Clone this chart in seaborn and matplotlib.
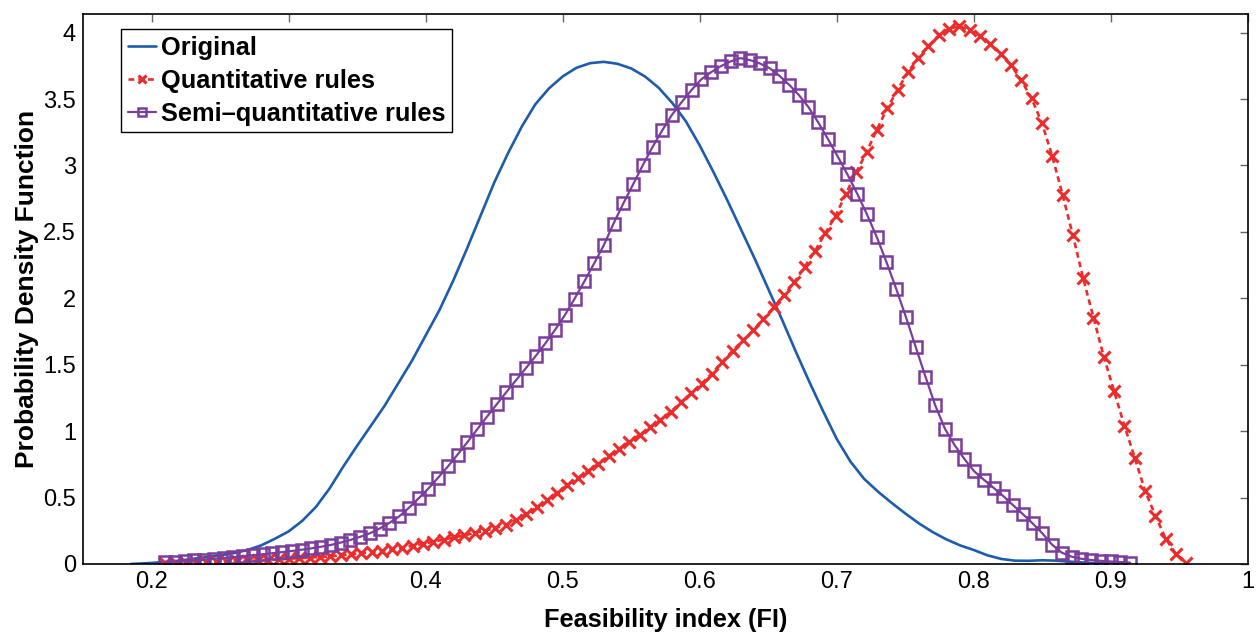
import matplotlib
matplotlib.use("Agg")
import matplotlib.pyplot as plt
import numpy as np
import pandas as pd
import seaborn as sns

# values
orig_x = [0.185, 0.20, 0.21, 0.22, 0.235, 0.25,
          0.26, 0.27, 0.28, 0.29, 0.30, 0.31, 0.32, 0.33, 0.34, 0.35,
          0.36, 0.37, 0.38, 0.39, 0.40, 0.41, 0.42, 0.43, 0.44, 0.45,
          0.46, 0.47, 0.48, 0.49, 0.50, 0.51, 0.52, 0.53, 0.54, 0.55,
          0.56, 0.57, 0.58, 0.59, 0.60, 0.61, 0.62, 0.63, 0.64, 0.65,
          0.66, 0.67, 0.68, 0.69, 0.70, 0.71, 0.72, 0.73, 0.74, 0.75,
          0.76, 0.77, 0.78, 0.79, 0.80, 0.81, 0.82, 0.83, 0.84, 0.85,
          0.86, 0.87, 0.88, 0.89, 0.90, 0.91]
orig_pdf = [0.0, 0.008, 0.015, 0.025, 0.045, 0.065,
            0.082, 0.105, 0.14, 0.19, 0.245, 0.325, 0.43, 0.57, 0.735, 0.89,
            1.04, 1.19, 1.36, 1.53, 1.72, 1.91, 2.13, 2.37, 2.62, 2.87,
            3.09, 3.29, 3.46, 3.58, 3.67, 3.735, 3.77, 3.78, 3.765, 3.73,
            3.67, 3.585, 3.47, 3.33, 3.15, 2.95, 2.74, 2.52, 2.30, 2.07,
            1.84, 1.60, 1.37, 1.15, 0.94, 0.77, 0.64, 0.545, 0.46, 0.38,
            0.305, 0.24, 0.185, 0.14, 0.105, 0.065, 0.038, 0.025, 0.024, 0.028,
            0.025, 0.018, 0.011, 0.006, 0.003, 0.0]

# the two rule-based curves are sampled on an even grid (100 points)
quant_start, quant_end = 0.21, 0.955
quant_pdf = [0.004, 0.0055, 0.0075, 0.0098, 0.012, 0.0143, 0.0171, 0.0201, 0.0231, 0.0269,
             0.0306, 0.0347, 0.0392, 0.0437, 0.0482, 0.053, 0.0583, 0.0651, 0.0725, 0.0806,
             0.0896, 0.0994, 0.111, 0.1236, 0.1372, 0.152, 0.168, 0.184, 0.200, 0.216,
             0.2335, 0.2513, 0.2705, 0.295, 0.330, 0.377, 0.426, 0.4785, 0.538, 0.5945,
             0.647, 0.700, 0.756, 0.813, 0.8677, 0.920, 0.973, 1.028, 1.086, 1.145,
             1.217, 1.286, 1.358, 1.433, 1.520, 1.605, 1.683, 1.759, 1.845, 1.933,
             2.025, 2.122, 2.237, 2.357, 2.490, 2.622, 2.787, 2.950, 3.100, 3.270,
             3.430, 3.570, 3.700, 3.810, 3.900, 3.980, 4.030, 4.048, 4.018, 3.975,
             3.915, 3.842, 3.755, 3.640, 3.504, 3.320, 3.070, 2.780, 2.475, 2.150,
             1.855, 1.560, 1.300, 1.040, 0.800, 0.550, 0.365, 0.190, 0.075, 0.010]

semi_start, semi_end = 0.21, 0.914
semi_pdf = [0.015, 0.0186, 0.0225, 0.027, 0.0327, 0.039, 0.0454, 0.0518, 0.0589, 0.066,
            0.0732, 0.081, 0.0894, 0.0981, 0.1075, 0.118, 0.1302, 0.1437, 0.1612, 0.1813,
            0.2044, 0.2313, 0.2666, 0.3094, 0.3583, 0.423, 0.4945, 0.568, 0.650, 0.734,
            0.824, 0.917, 1.013, 1.108, 1.201, 1.294, 1.384, 1.474, 1.565, 1.661,
            1.763, 1.873, 1.997, 2.127, 2.262, 2.400, 2.563, 2.714, 2.857, 3.002,
            3.139, 3.265, 3.382, 3.478, 3.568, 3.648, 3.702, 3.747, 3.783, 3.808,
            3.793, 3.768, 3.733, 3.676, 3.609, 3.531, 3.439, 3.324, 3.198, 3.067,
            2.932, 2.787, 2.632, 2.462, 2.273, 2.071, 1.858, 1.634, 1.410, 1.195,
            1.018, 0.894, 0.790, 0.698, 0.634, 0.573, 0.510, 0.442, 0.375, 0.305,
            0.230, 0.145, 0.085, 0.055, 0.039, 0.030, 0.024, 0.019, 0.015, 0.010]

labels = ["Original", "Quantitative rules", "Semi\u2013quantitative rules"]
x_ticks = [0.2, 0.3, 0.4, 0.5, 0.6, 0.7, 0.8, 0.9, 1.0]
y_ticks = [0, 0.5, 1, 1.5, 2, 2.5, 3, 3.5, 4]

BLUE = "#1d5cad"
RED = "#ee2b2b"
PURPLE = "#7a3d9c"

sns.set_theme(style="white")
plt.rcParams["font.family"] = ["Liberation Sans", "DejaVu Sans"]
plt.rcParams["text.color"] = "black"
plt.rcParams["axes.labelcolor"] = "black"

orig_df = pd.DataFrame({"FI": orig_x, "pdf": orig_pdf})
quant_df = pd.DataFrame({"FI": np.linspace(quant_start, quant_end, len(quant_pdf)), "pdf": quant_pdf})
semi_df = pd.DataFrame({"FI": np.linspace(semi_start, semi_end, len(semi_pdf)), "pdf": semi_pdf})

fig, ax = plt.subplots(figsize=(12.56, 6.34), dpi=100)
fig.subplots_adjust(left=83 / 1256, right=1248 / 1256, bottom=1 - 564 / 634, top=1 - 14 / 634)

sns.lineplot(data=orig_df, x="FI", y="pdf", ax=ax, color=BLUE, linewidth=1.9,
             estimator=None, errorbar=None, label=labels[0])
sns.lineplot(data=quant_df, x="FI", y="pdf", ax=ax, color=RED, linewidth=1.9,
             linestyle=(0, (2.2, 1.5)), marker="x", markersize=8.5,
             markeredgewidth=2.2, markeredgecolor=RED,
             estimator=None, errorbar=None, label=labels[1])
sns.lineplot(data=semi_df, x="FI", y="pdf", ax=ax, color=PURPLE, linewidth=1.6,
             marker="s", markersize=8.5, markeredgewidth=1.8, markeredgecolor=PURPLE,
             markerfacecolor="none", estimator=None, errorbar=None, label=labels[2])

ax.set_xlim(0.15, 1.0)
ax.set_ylim(0, 4.14)
ax.set_xticks(x_ticks, labels=[f"{t:g}" for t in x_ticks])
ax.set_yticks(y_ticks, labels=[f"{t:g}" for t in y_ticks])
ax.tick_params(direction="in", length=6, width=1, color="#666666", labelsize=17,
               labelcolor="black", top=True, right=True, pad=5)
for spine in ax.spines.values():
    spine.set_color("black")
    spine.set_linewidth(1.2)

ax.set_xlabel("Feasibility index (FI)", fontsize=18.3, fontweight="bold", labelpad=11)
ax.set_ylabel("Probability Density Function", fontsize=19, fontweight="bold", labelpad=3)

leg = ax.legend(loc="upper left", bbox_to_anchor=(0.033, 0.972),
                prop={"weight": "bold", "size": 18.3}, frameon=True, fancybox=False,
                edgecolor="black", framealpha=1, handlelength=1.1, handletextpad=0.2,
                borderpad=0.25, labelspacing=0.36, borderaxespad=0, markerscale=0.6)
leg.get_frame().set_linewidth(1.0)

fig.savefig("out.png", dpi=100)
plt.close(fig)
